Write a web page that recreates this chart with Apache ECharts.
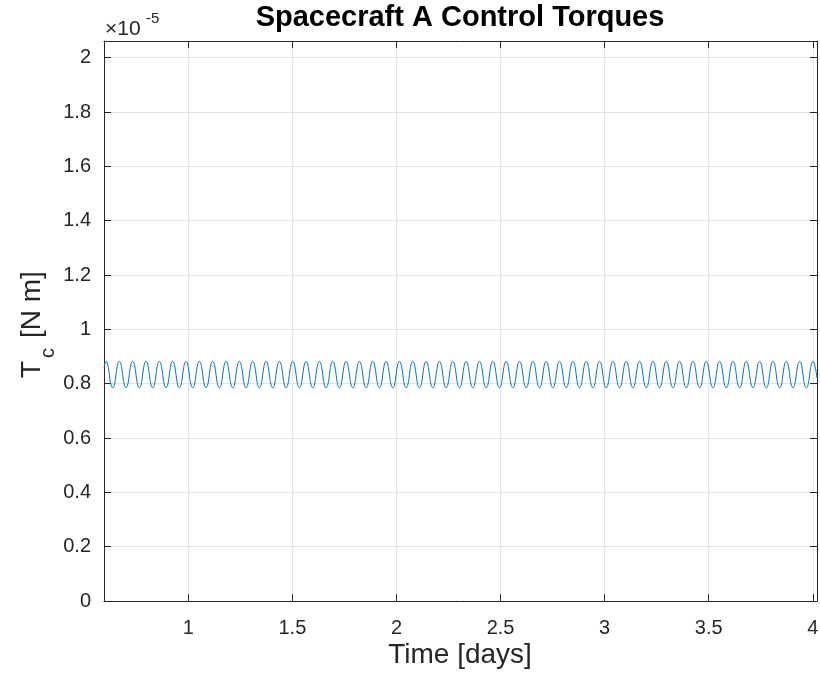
<!DOCTYPE html>
<html>
<head>
<meta charset="utf-8">
<script src="https://cdn.jsdelivr.net/npm/echarts@6/dist/echarts.min.js"></script>
<style>
  html, body { margin: 0; padding: 0; background: #ffffff; }
  #chart { width: 820px; height: 680px; }
</style>
</head>
<body>
<div id="chart"></div>
<script>
// Control torque history, time in days, torque in units of 1e-5 N m
const timeDays = [
  0.595,
  0.6045, 0.6365, 0.6686, 0.7006, 0.7327, 0.7647, 0.7967, 0.8288, 0.8608, 0.8929,
  0.9249, 0.9569, 0.9890, 1.0210, 1.0531, 1.0851, 1.1171, 1.1492, 1.1812, 1.2133,
  1.2453, 1.2773, 1.3094, 1.3414, 1.3735, 1.4055, 1.4375, 1.4696, 1.5016, 1.5337,
  1.5657, 1.5977, 1.6298, 1.6618, 1.6939, 1.7259, 1.7579, 1.7900, 1.8220, 1.8541,
  1.8861, 1.9181, 1.9502, 1.9822, 2.0143, 2.0463, 2.0783, 2.1104, 2.1424, 2.1745,
  2.2065, 2.2385, 2.2706, 2.3026, 2.3347, 2.3667, 2.3987, 2.4308, 2.4628, 2.4949,
  2.5269, 2.5589, 2.5910, 2.6230, 2.6551, 2.6871, 2.7191, 2.7512, 2.7832, 2.8153,
  2.8473, 2.8793, 2.9114, 2.9434, 2.9755, 3.0075, 3.0395, 3.0716, 3.1036, 3.1357,
  3.1677, 3.1997, 3.2318, 3.2638, 3.2959, 3.3279, 3.3599, 3.3920, 3.4240, 3.4561,
  3.4881, 3.5201, 3.5522, 3.5842, 3.6163, 3.6483, 3.6803, 3.7124, 3.7444, 3.7765,
  3.8085, 3.8405, 3.8726, 3.9046, 3.9367, 3.9687, 4.0007,
  4.02
];
const torqueE5 = [
  0.860,
  0.882, 0.785, 0.882, 0.785, 0.882, 0.785, 0.882, 0.785, 0.882, 0.785,
  0.882, 0.785, 0.882, 0.785, 0.882, 0.785, 0.882, 0.785, 0.882, 0.785,
  0.882, 0.785, 0.882, 0.785, 0.882, 0.785, 0.882, 0.785, 0.882, 0.785,
  0.882, 0.785, 0.882, 0.785, 0.882, 0.785, 0.882, 0.785, 0.882, 0.785,
  0.882, 0.785, 0.882, 0.785, 0.882, 0.785, 0.882, 0.785, 0.882, 0.785,
  0.882, 0.785, 0.882, 0.785, 0.882, 0.785, 0.882, 0.785, 0.882, 0.785,
  0.882, 0.785, 0.882, 0.785, 0.882, 0.785, 0.882, 0.785, 0.882, 0.785,
  0.882, 0.785, 0.882, 0.785, 0.882, 0.785, 0.882, 0.785, 0.882, 0.785,
  0.882, 0.785, 0.882, 0.785, 0.882, 0.785, 0.882, 0.785, 0.882, 0.785,
  0.882, 0.785, 0.882, 0.785, 0.882, 0.785, 0.882, 0.785, 0.882, 0.785,
  0.882, 0.785, 0.882, 0.785, 0.882, 0.785, 0.882,
  0.820
];

const xTicks = [1, 1.5, 2, 2.5, 3, 3.5, 4];
const yTicks = [0, 0.2, 0.4, 0.6, 0.8, 1, 1.2, 1.4, 1.6, 1.8, 2];
const xRange = [0.595, 4.02];
const yRange = [0, 2.0615];

const INK = '#262626';
const GRID = '#e3e3e3';
const FONT = '"Liberation Sans", Arial, Helvetica, sans-serif';

const chart = echarts.init(document.getElementById('chart'), null, { renderer: 'canvas' });

function xAxisDef(pos, labels) {
  return {
    type: 'value', position: pos, min: xRange[0], max: xRange[1],
    axisLine: { show: true, onZero: false, lineStyle: { color: INK, width: 1 } },
    axisTick: { show: true, inside: true, length: 7, customValues: xTicks, lineStyle: { color: INK } },
    axisLabel: labels ? { show: true, customValues: xTicks, color: INK, fontSize: 20, fontFamily: FONT, margin: 17 } : { show: false },
    splitLine: { show: labels, customValues: xTicks, lineStyle: { color: GRID, width: 1 } }
  };
}
function yAxisDef(pos, labels) {
  return {
    type: 'value', position: pos, min: yRange[0], max: yRange[1],
    axisLine: { show: true, onZero: false, lineStyle: { color: INK, width: 1 } },
    axisTick: { show: true, inside: true, length: 7, customValues: yTicks, lineStyle: { color: INK } },
    axisLabel: labels ? { show: true, customValues: yTicks, color: INK, fontSize: 20, fontFamily: FONT, margin: 13 } : { show: false },
    splitLine: { show: labels, customValues: yTicks, lineStyle: { color: GRID, width: 1 } }
  };
}

const option = {
  backgroundColor: '#ffffff',
  animation: false,
  grid: { left: 104, right: 3, top: 41, bottom: 79, containLabel: false, outerBoundsMode: 'none' },
  xAxis: [xAxisDef('bottom', true), xAxisDef('top', false)],
  yAxis: [yAxisDef('left', true), yAxisDef('right', false)],
  series: [{
    type: 'line',
    xAxisIndex: 0, yAxisIndex: 0,
    data: timeDays.map((t, i) => [t, torqueE5[i]]),
    smooth: true,
    showSymbol: false,
    symbol: 'none',
    clip: true,
    lineStyle: { color: '#0072BD', width: 1 }
  }],
  graphic: [
    { type: 'text', x: 460, y: 18,
      style: { text: 'Spacecraft A Control Torques', fill: '#000000', font: 'bold 29px ' + FONT, textAlign: 'center', textVerticalAlign: 'middle' } },
    { type: 'text', x: 105, y: 29,
      style: { text: '\u00d710', fill: INK, font: '21px ' + FONT, textAlign: 'left', textVerticalAlign: 'middle' } },
    { type: 'text', x: 146, y: 19,
      style: { text: '-5', fill: INK, font: '15px ' + FONT, textAlign: 'left', textVerticalAlign: 'middle' } },
    { type: 'text', x: 460, y: 655,
      style: { text: 'Time [days]', fill: INK, font: '28px ' + FONT, textAlign: 'center', textVerticalAlign: 'middle' } },
    { type: 'group', x: 32, y: 378, rotation: Math.PI / 2,
      children: [
        { type: 'text', x: 0, y: 0,
          style: { text: 'T', fill: INK, font: '28px ' + FONT, textAlign: 'left', textVerticalAlign: 'middle' } },
        { type: 'text', x: 20, y: 16,
          style: { text: 'c', fill: INK, font: '20px ' + FONT, textAlign: 'left', textVerticalAlign: 'middle' } },
        { type: 'text', x: 40, y: 0,
          style: { text: '[N m]', fill: INK, font: '28px ' + FONT, textAlign: 'left', textVerticalAlign: 'middle' } }
      ]
    }
  ]
};
chart.setOption(option);
</script>
</body>
</html>
